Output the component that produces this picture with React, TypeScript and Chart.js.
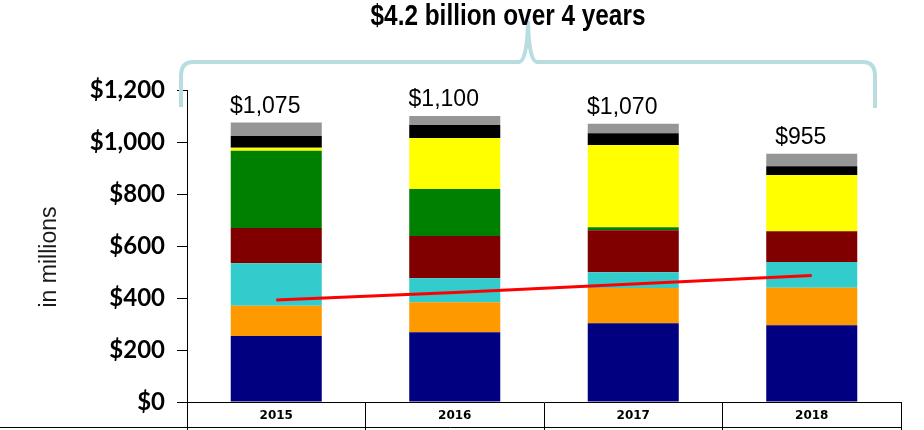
import React, { useEffect, useRef } from 'react';
import { Chart, registerables } from 'chart.js';

Chart.register(...registerables);

const categories = ['2015', '2016', '2017', '2018'];
const seriesNavy = [254, 268, 303, 295];
const seriesOrange = [116, 116, 135, 144];
const seriesCyan = [164, 92, 61, 99];
const seriesMaroon = [135, 162, 162, 119];
const seriesGreen = [297, 181, 11, 0];
const seriesYellow = [12, 196, 316, 216];
const seriesBlack = [45, 50, 46, 34];
const seriesGray = [52, 35, 36, 48];
const totals = [1075, 1100, 1070, 955];
const trendValues = [392, 421, 454, 487];
const yMax = 1200;
const yStep = 200;
const headline = '$4.2 billion over 4 years';
const yAxisLabel = 'in millions';

const fmt = (v: number) => '$' + v.toLocaleString('en-US');

export default function App() {
  const ref = useRef<HTMLCanvasElement>(null);

  useEffect(() => {
    document.body.style.margin = '0';
    const canvas = ref.current!;

    const overlay = {
      id: 'overlay',
      afterDraw(chart: any) {
        const c = chart.ctx as CanvasRenderingContext2D;
        const a = chart.chartArea;
        c.save();

        // brace
        const L = a.left - 6;
        const R = a.right - 26;
        const H = a.top - 28;
        const cx = 528;
        c.strokeStyle = 'rgb(183,221,225)';
        c.lineWidth = 4;
        c.lineJoin = 'round';
        c.lineCap = 'butt';
        c.beginPath();
        c.moveTo(L, a.top + 17);
        c.lineTo(L, H + 14);
        c.quadraticCurveTo(L, H, L + 12, H);
        c.lineTo(cx - 9, H);
        c.quadraticCurveTo(cx - 1, H, cx, 22);
        c.quadraticCurveTo(cx + 1, H, cx + 9, H);
        c.lineTo(R - 12, H);
        c.quadraticCurveTo(R, H, R, H + 14);
        c.lineTo(R, a.top + 18);
        c.stroke();

        // headline
        c.save();
        c.translate(508, 25);
        c.scale(0.84, 1);
        c.font = 'bold 29px "Liberation Sans", Arial, sans-serif';
        c.fillStyle = '#000';
        c.textAlign = 'center';
        c.textBaseline = 'alphabetic';
        c.fillText(headline, 0, 0);
        c.restore();

        // y axis label
        c.save();
        c.translate(50, 257);
        c.rotate(-Math.PI / 2);
        c.font = '23px "Liberation Sans", Arial, sans-serif';
        c.fillStyle = '#1a1a1a';
        c.textAlign = 'center';
        c.textBaseline = 'middle';
        c.fillText(yAxisLabel, 0, 0);
        c.restore();

        // totals
        const meta = chart.getDatasetMeta(7);
        c.font = '23px "Liberation Sans", Arial, sans-serif';
        c.fillStyle = '#000';
        c.textAlign = 'center';
        c.textBaseline = 'alphabetic';
        meta.data.forEach((bar: any, i: number) => {
          c.fillText(fmt(totals[i]), bar.x - 11, bar.y - 10);
        });

        // table bottom line
        c.strokeStyle = '#000';
        c.lineWidth = 1;
        c.beginPath();
        c.moveTo(0, 427.5);
        c.lineTo(a.right, 427.5);
        c.stroke();

        c.restore();
      },
    };

    const mkBar = (label: string, data: number[], color: string) => ({
      type: 'bar' as const,
      label,
      data,
      backgroundColor: color,
      borderWidth: 0,
      stack: 'total',
      order: 1,
      categoryPercentage: 1,
      barPercentage: 0.51,
    });

    const chart = new Chart(canvas, {
      type: 'bar',
      data: {
        labels: categories,
        datasets: [
          mkBar('A', seriesNavy, '#000080'),
          mkBar('B', seriesOrange, '#FF9900'),
          mkBar('C', seriesCyan, '#33CCCC'),
          mkBar('D', seriesMaroon, '#800000'),
          mkBar('E', seriesGreen, '#008000'),
          mkBar('F', seriesYellow, '#FFFF00'),
          mkBar('G', seriesBlack, '#000000'),
          mkBar('H', seriesGray, '#969696'),
          {
            type: 'line' as const,
            label: 'Trend',
            data: trendValues,
            borderColor: '#FF0000',
            borderWidth: 3,
            pointRadius: 0,
            tension: 0,
            stack: 'trend',
            order: 0,
            fill: false,
          } as any,
        ],
      },
      options: {
        animation: false,
        responsive: true,
        maintainAspectRatio: false,
        layout: { padding: { left: 0, right: 23, top: 90, bottom: 0 } },
        plugins: {
          legend: { display: false },
          tooltip: { enabled: false },
          title: { display: false },
        },
        scales: {
          x: {
            stacked: true,
            grid: {
              display: true,
              drawOnChartArea: false,
              drawTicks: true,
              tickLength: 28,
              color: '#000',
              lineWidth: 1,
              offset: true,
            },
            border: { display: true, color: '#000', width: 1 },
            ticks: {
              color: '#000',
              padding: -21,
              font: { family: '"DejaVu Sans", Verdana, sans-serif', size: 12, weight: 'bold' },
            },
            afterFit: (s: any) => {
              s.height = 28;
            },
          },
          y: {
            stacked: true,
            min: 0,
            max: yMax,
            grid: {
              display: true,
              drawOnChartArea: false,
              drawTicks: true,
              tickLength: 10,
              color: '#000',
              lineWidth: 1,
            },
            border: { display: true, color: '#000', width: 1 },
            ticks: {
              stepSize: yStep,
              color: '#000',
              padding: 12,
              font: { family: 'Lato, "Open Sans", sans-serif', size: 24, weight: 'bold' },
              callback: (v: any) => fmt(Number(v)),
            },
            afterFit: (s: any) => {
              s.width = 187;
            },
          },
        },
      },
      plugins: [overlay],
    } as any);

    return () => chart.destroy();
  }, []);

  return (
    <div style={{ width: 924, height: 430, position: 'relative' }}>
      <canvas ref={ref} style={{ display: 'block' }} />
    </div>
  );
}
